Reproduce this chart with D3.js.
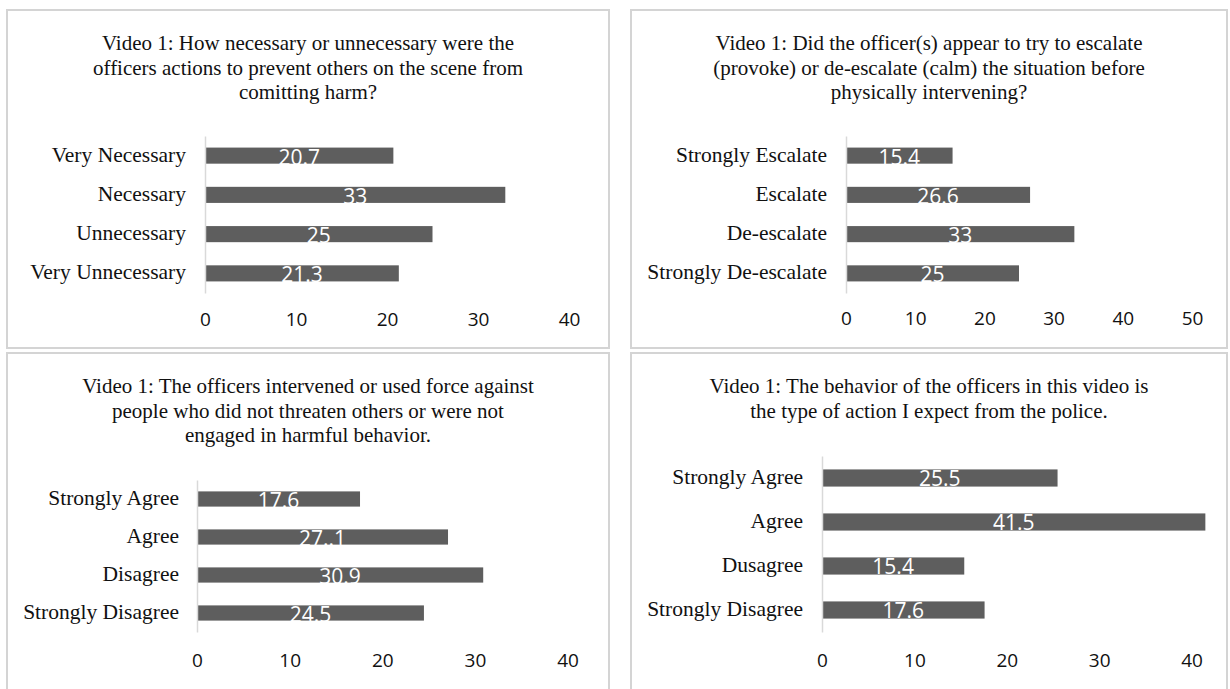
<!DOCTYPE html>
<html>
<head>
<meta charset="utf-8">
<script src="https://cdn.jsdelivr.net/npm/d3@7/dist/d3.min.js"></script>
<style>
  html, body { margin: 0; padding: 0; background: #ffffff; }
  svg { display: block; }
</style>
</head>
<body>
<svg id="chart" width="1230" height="689"></svg>
<script>
// ---- Survey results, Video 1 ----
const necessityTitle = ["Video 1: How necessary or unnecessary were the",
  "officers actions to prevent others on the scene from", "comitting harm?"];
const necessityCategories = ["Very Necessary", "Necessary", "Unnecessary", "Very Unnecessary"];
const necessityValues = [20.7, 33, 25, 21.3];
const necessityLabels = ["20.7", "33", "25", "21.3"];
const necessityTicks = [0, 10, 20, 30, 40];

const escalationTitle = ["Video 1: Did the officer(s) appear to try to escalate",
  "(provoke) or de-escalate (calm) the situation before", "physically intervening?"];
const escalationCategories = ["Strongly Escalate", "Escalate", "De-escalate", "Strongly De-escalate"];
const escalationValues = [15.4, 26.6, 33, 25];
const escalationLabels = ["15.4", "26.6", "33", "25"];
const escalationTicks = [0, 10, 20, 30, 40, 50];

const forceTitle = ["Video 1: The officers intervened or used force against",
  "people who did not threaten others or were not", "engaged in harmful behavior."];
const forceCategories = ["Strongly Agree", "Agree", "Disagree", "Strongly Disagree"];
const forceValues = [17.6, 27.1, 30.9, 24.5];
const forceLabels = ["17.6", "27..1", "30.9", "24.5"];
const forceTicks = [0, 10, 20, 30, 40];

const expectTitle = ["Video 1: The behavior of the officers in this video is",
  "the type of action I expect from the police."];
const expectCategories = ["Strongly Agree", "Agree", "Dusagree", "Strongly Disagree"];
const expectValues = [25.5, 41.5, 15.4, 17.6];
const expectLabels = ["25.5", "41.5", "15.4", "17.6"];
const expectTicks = [0, 10, 20, 30, 40];

// ---- Panel geometry ----
const panels = [
  { title: necessityTitle, cats: necessityCategories, values: necessityValues, labels: necessityLabels, ticks: necessityTicks,
    box: [7, 10, 602, 338], titleY: 50, axisX: [205, 569], axisY: [136, 293], pad: 0.59, catGap: 19, tickGap: 20 },
  { title: escalationTitle, cats: escalationCategories, values: escalationValues, labels: escalationLabels, ticks: escalationTicks,
    box: [631, 10, 596, 338], titleY: 50, axisX: [846, 1192], axisY: [136, 293], pad: 0.59, catGap: 19, tickGap: 19 },
  { title: forceTitle, cats: forceCategories, values: forceValues, labels: forceLabels, ticks: forceTicks,
    box: [7, 353, 602, 350], titleY: 393, axisX: [197, 567.5], axisY: [480, 632], pad: 0.6, catGap: 18, tickGap: 22 },
  { title: expectTitle, cats: expectCategories, values: expectValues, labels: expectLabels, ticks: expectTicks,
    box: [631, 353, 596, 350], titleY: 393, axisX: [822, 1191.5], axisY: [456, 632], pad: 0.61, catGap: 19, tickGap: 21.5 }
];

const svg = d3.select("#chart");
const serif = "'Liberation Serif', 'Times New Roman', serif";
const sans = "'Open Sans', 'Noto Sans', sans-serif";

panels.forEach(p => {
  const g = svg.append("g");

  // panel frame
  g.append("rect")
    .attr("x", p.box[0]).attr("y", p.box[1])
    .attr("width", p.box[2]).attr("height", p.box[3])
    .attr("fill", "#ffffff")
    .attr("stroke", "#d4d4d4").attr("stroke-width", 2);

  // title
  const cx = p.box[0] + p.box[2] / 2;
  g.append("text")
    .attr("text-anchor", "middle")
    .attr("font-family", serif).attr("font-size", 21).attr("fill", "#111")
    .selectAll("tspan").data(p.title).join("tspan")
    .attr("x", cx)
    .attr("y", (d, i) => p.titleY + i * 24.5)
    .text(d => d);

  const x = d3.scaleLinear().domain([0, d3.max(p.ticks)]).range(p.axisX);
  const y = d3.scaleBand().domain(p.cats).range(p.axisY)
    .paddingInner(p.pad).paddingOuter(p.pad / 2);

  // bars
  g.selectAll("rect.bar").data(p.cats).join("rect")
    .attr("class", "bar")
    .attr("x", x(0))
    .attr("y", d => y(d))
    .attr("width", (d, i) => x(p.values[i]) - x(0))
    .attr("height", y.bandwidth())
    .attr("fill", "#5e5e5e");

  // value labels
  g.selectAll("text.val").data(p.cats).join("text")
    .attr("class", "val")
    .attr("x", (d, i) => (x(0) + x(p.values[i])) / 2)
    .attr("y", d => y(d) + 17)
    .attr("text-anchor", "middle")
    .attr("font-family", sans).attr("font-size", 21).attr("fill", "#ffffff")
    .text((d, i) => p.labels[i]);

  // category axis
  const yAxis = g.append("g")
    .attr("transform", `translate(${x(0)},0)`)
    .call(d3.axisLeft(y).tickSize(0).tickSizeOuter(0).tickPadding(p.catGap));
  yAxis.select(".domain").attr("stroke", "#d9d9d9").attr("stroke-width", 1.5);
  yAxis.selectAll("text")
    .attr("font-family", serif).attr("font-size", 21.5).attr("fill", "#111")
    .attr("dy", "0.28em");

  // value axis (labels only)
  const xAxis = g.append("g")
    .attr("transform", `translate(0,${p.axisY[1]})`)
    .call(d3.axisBottom(x).tickValues(p.ticks).tickFormat(d3.format("d"))
      .tickSize(0).tickPadding(p.tickGap));
  xAxis.select(".domain").remove();
  xAxis.selectAll("text")
    .attr("font-family", sans).attr("font-size", 19).attr("fill", "#111");

  // keep the category axis line drawn over the bars' left edge
  yAxis.raise();
});
</script>
</body>
</html>
